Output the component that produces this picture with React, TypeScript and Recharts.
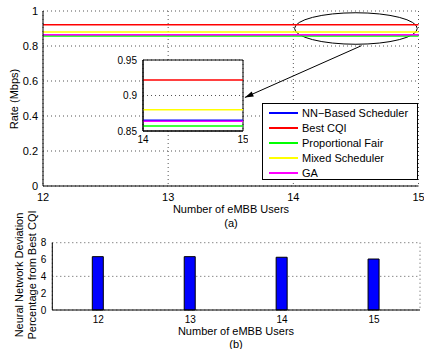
import React from "react";
import {
  Bar,
  BarChart,
  CartesianGrid,
  Line,
  LineChart,
  ReferenceArea,
  ReferenceLine,
  XAxis,
  YAxis,
} from "recharts";

const users = [12, 13, 14, 15];
const nnRate = [0.865, 0.865, 0.865, 0.865];
const cqiRate = [0.922, 0.922, 0.922, 0.922];
const pfRate = [0.857, 0.857, 0.857, 0.857];
const mixedRate = [0.88, 0.88, 0.88, 0.88];
const gaRate = [0.8636, 0.8636, 0.8636, 0.8636];
const deviation = [6.34, 6.34, 6.27, 6.06];

const rateTicks = [0, 0.2, 0.4, 0.6, 0.8, 1];
const insetTicks = [0.85, 0.9, 0.95];
const devTicks = [0, 2, 4, 6, 8];

const series = [
  { key: "nn", label: "NN\u2212Based Scheduler", color: "#0000ff", values: nnRate },
  { key: "cqi", label: "Best CQI", color: "#ff0000", values: cqiRate },
  { key: "pf", label: "Proportional Fair", color: "#00ff00", values: pfRate },
  { key: "mixed", label: "Mixed Scheduler", color: "#ffff00", values: mixedRate },
  { key: "ga", label: "GA", color: "#ff00ff", values: gaRate },
];

const rateRows = users.map((u, i) => {
  const row: Record<string, number> = { users: u };
  series.forEach((s) => (row[s.key] = s.values[i]));
  return row;
});

const devRows = users.map((u, i) => ({ users: u, dev: deviation[i] }));

const FONT = "'Liberation Sans', Arial, Helvetica, sans-serif";
const tickStyle = { fill: "#000", fontSize: 11, fontFamily: FONT };
const gridStroke = "#555";

const Ellipse = (p: any) => (
  <ellipse
    cx={p.x + p.width / 2}
    cy={p.y + p.height / 2}
    rx={p.width / 2}
    ry={p.height / 2}
    fill="none"
    stroke="#000"
    strokeWidth={1}
  />
);

const Arrow = (p: any) => {
  const { x1, y1, x2, y2 } = p;
  const a = Math.atan2(y2 - y1, x2 - x1);
  const len = 9;
  const spread = 0.3;
  const ax = x2 - len * Math.cos(a - spread);
  const ay = y2 - len * Math.sin(a - spread);
  const bx = x2 - len * Math.cos(a + spread);
  const by = y2 - len * Math.sin(a + spread);
  return (
    <g>
      <line x1={x1} y1={y1} x2={x2} y2={y2} stroke="#000" strokeWidth={1} />
      <polygon points={`${x2},${y2} ${ax},${ay} ${bx},${by}`} fill="#000" />
    </g>
  );
};

export default function App() {
  return (
    <div
      style={{
        position: "absolute",
        left: 0,
        top: 0,
        width: 424,
        height: 349,
        background: "#fff",
        fontFamily: FONT,
      }}
    >
      {/* (a) rate vs users */}
      <div style={{ position: "absolute", left: 0, top: 0 }}>
        <LineChart
          width={424}
          height={232}
          data={rateRows}
          margin={{ top: 11, right: 5.5, left: 13, bottom: 26 }}
        >
          <CartesianGrid stroke={gridStroke} strokeDasharray="1 3" />
          <XAxis
            dataKey="users"
            type="number"
            domain={[12, 15]}
            ticks={users}
            height={20}
            stroke="#000"
            tickLine={false}
            tickSize={5}
            tick={tickStyle}
          />
          <YAxis
            type="number"
            domain={[0, 1]}
            ticks={rateTicks}
            width={30}
            stroke="#000"
            tickLine={false}
            tickSize={3}
            tick={tickStyle}
          />
          {series.map((s) => (
            <Line
              key={s.key}
              type="linear"
              dataKey={s.key}
              stroke={s.color}
              strokeWidth={1.5}
              dot={false}
              isAnimationActive={false}
            />
          ))}
          <ReferenceArea
            x1={14.01}
            x2={14.99}
            y1={0.81}
            y2={0.99}
            shape={Ellipse}
          />
          <ReferenceLine
            segment={[
              { x: 14.545, y: 0.802 },
              { x: 13.613, y: 0.506 },
            ]}
            shape={Arrow}
          />
        </LineChart>
      </div>

      {/* inset zoom */}
      <div style={{ position: "absolute", left: 108, top: 52 }}>
        <LineChart
          width={140}
          height={97}
          data={rateRows}
          margin={{ top: 8, right: 5, left: 5, bottom: 2 }}
        >
          <CartesianGrid stroke={gridStroke} strokeDasharray="1 3" fill="#fff" />
          <XAxis
            dataKey="users"
            type="number"
            domain={[14, 15]}
            ticks={[14, 15]}
            height={16}
            stroke="#000"
            tickLine={false}
            tickSize={3}
            tick={{ ...tickStyle, fontSize: 10 }}
            allowDataOverflow
          />
          <YAxis
            type="number"
            domain={[0.85, 0.95]}
            ticks={insetTicks}
            width={30}
            stroke="#000"
            tickLine={false}
            tickSize={4}
            tick={{ ...tickStyle, fontSize: 10 }}
            allowDataOverflow
          />
          {series.map((s) => (
            <Line
              key={s.key}
              type="linear"
              dataKey={s.key}
              stroke={s.color}
              strokeWidth={1.5}
              dot={false}
              isAnimationActive={false}
            />
          ))}
          <ReferenceArea
            x1={14}
            x2={15}
            y1={0.85}
            y2={0.95}
            fill="none"
            stroke="#000"
            strokeWidth={1}
          />
        </LineChart>
      </div>

      {/* legend */}
      <div
        style={{
          position: "absolute",
          left: 262,
          top: 103,
          width: 156,
          height: 77,
          boxSizing: "border-box",
          border: "1px solid #000",
          background: "#fff",
          paddingTop: 1,
        }}
      >
        {series.map((s) => (
          <div
            key={s.key}
            style={{ display: "flex", alignItems: "center", height: 15, fontSize: 11 }}
          >
            <span
              style={{
                display: "inline-block",
                width: 29,
                height: 2,
                marginLeft: 6,
                marginRight: 4,
                background: s.color,
              }}
            />
            <span>{s.label}</span>
          </div>
        ))}
      </div>

      {/* (b) deviation bars */}
      <div style={{ position: "absolute", left: 0, top: 232 }}>
        <BarChart
          width={424}
          height={100}
          data={devRows}
          margin={{ top: 10.7, right: 4, left: 12.3, bottom: 8 }}
        >
          <XAxis
            xAxisId="grid"
            type="number"
            domain={[11.5, 15.5]}
            ticks={[12.5, 13.5, 14.5, 15.5]}
            hide
          />
          <CartesianGrid xAxisId="grid" stroke={gridStroke} strokeDasharray="1 3" />
          <XAxis
            dataKey="users"
            height={14}
            stroke="#000"
            tickLine={false}
            tickSize={4}
            tick={{ ...tickStyle, fontSize: 10 }}
          />
          <YAxis
            type="number"
            domain={[0, 8]}
            ticks={devTicks}
            width={40}
            stroke="#000"
            tickLine={false}
            tickSize={4}
            tick={{ ...tickStyle, fontSize: 10 }}
          />
          <Bar
            dataKey="dev"
            fill="#0000ff"
            stroke="#000"
            strokeWidth={1}
            barSize={11}
            isAnimationActive={false}
          />
        </BarChart>
      </div>

      {/* axis titles */}
      <svg
        width={424}
        height={349}
        style={{ position: "absolute", left: 0, top: 0, pointerEvents: "none" }}
        fontFamily={FONT}
        fontSize={11}
      >
        <text x={18} y={99} textAnchor="middle" transform="rotate(-90 18 99)">
          Rate (Mbps)
        </text>
        <text x={231} y={213} textAnchor="middle">
          Number of eMBB Users
        </text>
        <text x={231} y={227} textAnchor="middle">
          (a)
        </text>
        <text x={23} y={275} textAnchor="middle" transform="rotate(-90 23 275)">
          Neural Network Deviation
        </text>
        <text x={36} y={275} textAnchor="middle" transform="rotate(-90 36 275)">
          Percentage from Best CQI
        </text>
        <text x={236} y={335} textAnchor="middle">
          Number of eMBB Users
        </text>
        <text x={236} y={348} textAnchor="middle">
          (b)
        </text>
      </svg>
    </div>
  );
}
